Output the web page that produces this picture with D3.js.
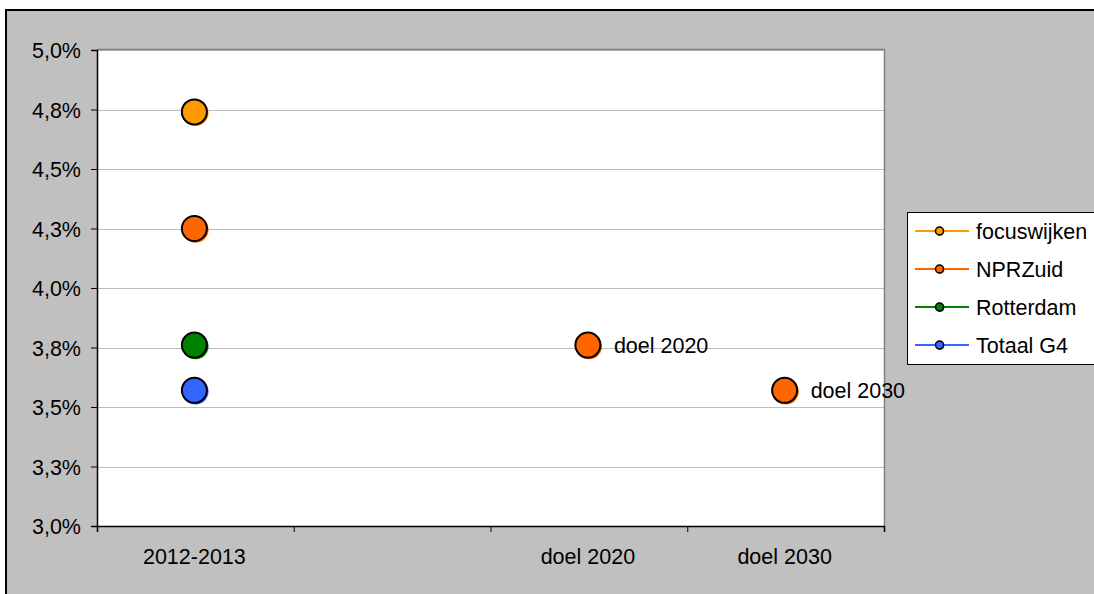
<!DOCTYPE html>
<html><head><meta charset="utf-8">
<script src="https://cdn.jsdelivr.net/npm/d3@7"></script>
<style>html,body{margin:0;padding:0;background:#fff;}svg{display:block;font-family:"Liberation Sans",Arial,sans-serif;}</style>
</head><body><svg id="c" width="1094" height="594"></svg>
<script>
const categories = ["2012-2013", "", "doel 2020", "doel 2030"];
const seriesNames = ["focuswijken", "NPRZuid", "Rotterdam", "Totaal G4"];
const seriesColors = ["#FF9900", "#FF6600", "#008000", "#3366FF"];
const focuswijken = [4.74, null, null, null];
const nprzuid = [4.25, null, 3.76, 3.57];
const rotterdam = [3.76, null, null, null];
const totaalG4 = [3.57, null, null, null];
const nprzuidLabels = [null, null, "doel 2020", "doel 2030"];
const yTicks = [3.0, 3.25, 3.5, 3.75, 4.0, 4.25, 4.5, 4.75, 5.0];

const series = [focuswijken, nprzuid, rotterdam, totaalG4];
const pointLabels = [null, nprzuidLabels, null, null];
const svg = d3.select("#c");
const L = 97, R = 884, T = 50, B = 526;
const FS = 21.5;

svg.append("rect").attr("x", 6).attr("y", 10).attr("width", 1100).attr("height", 600).attr("fill", "#c0c0c0");
svg.append("line").attr("x1", 6).attr("x2", 6).attr("y1", 9).attr("y2", 594).attr("stroke", "#000").attr("stroke-width", 2);
svg.append("line").attr("x1", 5).attr("x2", 1094).attr("y1", 10).attr("y2", 10).attr("stroke", "#000").attr("stroke-width", 2);

const x = d3.scaleBand().domain(categories.map((c, i) => i)).range([L, R]);
const y = d3.scaleLinear().domain([3.0, 5.0]).range([B, T]);

svg.append("rect").attr("x", L).attr("y", T).attr("width", R - L).attr("height", B - T).attr("fill", "#fff");

// gridlines
svg.append("g").selectAll("line").data(yTicks.slice(1)).join("line")
  .attr("x1", L).attr("x2", R).attr("y1", d => Math.round(y(d)) + 0.5).attr("y2", d => Math.round(y(d)) + 0.5)
  .attr("stroke", "#bdbdbd").attr("stroke-width", 1);

// plot border top/right gray
svg.append("path").attr("d", `M${L},${T - 0.5}H${R + 0.5}V${B}`).attr("fill", "none").attr("stroke", "#808080").attr("stroke-width", 1.5);

// y axis
const yAxis = d3.axisLeft(y).tickValues(yTicks).tickSize(6).tickPadding(10)
  .tickFormat(d => (Math.round(d * 10) / 10).toFixed(1).replace(".", ",") + "%");
const gy = svg.append("g").attr("transform", `translate(${L},0)`).call(yAxis);
gy.select(".domain").attr("stroke", "#000").attr("stroke-width", 1.5);
gy.selectAll(".tick line").attr("stroke", "#000");
gy.selectAll("text").attr("font-size", FS).attr("fill", "#000").attr("font-family", "Liberation Sans, Arial, sans-serif").attr("dy", "0.36em");

// x axis
const xb = d3.scaleLinear().domain([0, categories.length]).range([L, R]);
const gx = svg.append("g").attr("transform", `translate(0,${B})`)
  .call(d3.axisBottom(xb).tickValues(d3.range(categories.length + 1)).tickSize(6).tickFormat(""));
gx.select(".domain").attr("stroke", "#000").attr("stroke-width", 1.5);
gx.selectAll(".tick line").attr("stroke", "#000");
svg.append("g").selectAll("text").data(categories).join("text")
  .attr("x", (d, i) => x(i) + x.bandwidth() / 2 - 1).attr("y", 564)
  .attr("text-anchor", "middle").attr("font-size", FS).attr("fill", "#000").text(d => d);

// points
const pts = [];
series.forEach((s, si) => s.forEach((v, ci) => { if (v != null) pts.push({si, ci, v}); }));
const cx = d => x(d.ci) + x.bandwidth() / 2 - 1;
const gp = svg.append("g");
gp.selectAll("circle.sh").data(pts).join("circle").attr("class", "sh")
  .attr("cx", d => cx(d) + 1.2).attr("cy", d => y(d.v) + 1.2).attr("r", 13).attr("fill", d => seriesColors[d.si]);
gp.selectAll("circle.m").data(pts).join("circle").attr("class", "m")
  .attr("cx", cx).attr("cy", d => y(d.v)).attr("r", 12.5).attr("fill", d => seriesColors[d.si])
  .attr("stroke", "#000").attr("stroke-width", 2);
gp.selectAll("text").data(pts.filter(d => pointLabels[d.si] && pointLabels[d.si][d.ci])).join("text")
  .attr("x", d => cx(d) + 26).attr("y", d => y(d.v) + 8).attr("font-size", FS).attr("fill", "#000")
  .text(d => pointLabels[d.si][d.ci]);

// legend
const lg = svg.append("g");
lg.append("rect").attr("x", 907.5).attr("y", 212.5).attr("width", 200).attr("height", 152)
  .attr("fill", "#fff").attr("stroke", "#000").attr("stroke-width", 1);
seriesNames.forEach((n, i) => {
  const yy = 231 + i * 38;
  lg.append("line").attr("x1", 915).attr("x2", 969).attr("y1", yy).attr("y2", yy).attr("stroke", seriesColors[i]).attr("stroke-width", 2);
  lg.append("circle").attr("cx", 940).attr("cy", yy + 0.5).attr("r", 4.5).attr("fill", seriesColors[i]);
  lg.append("circle").attr("cx", 939.5).attr("cy", yy).attr("r", 4).attr("fill", seriesColors[i]).attr("stroke", "#000").attr("stroke-width", 1.5);
  lg.append("text").attr("x", 976).attr("y", yy + 7.5).attr("font-size", FS).attr("fill", "#000").text(n);
});
</script></body></html>
